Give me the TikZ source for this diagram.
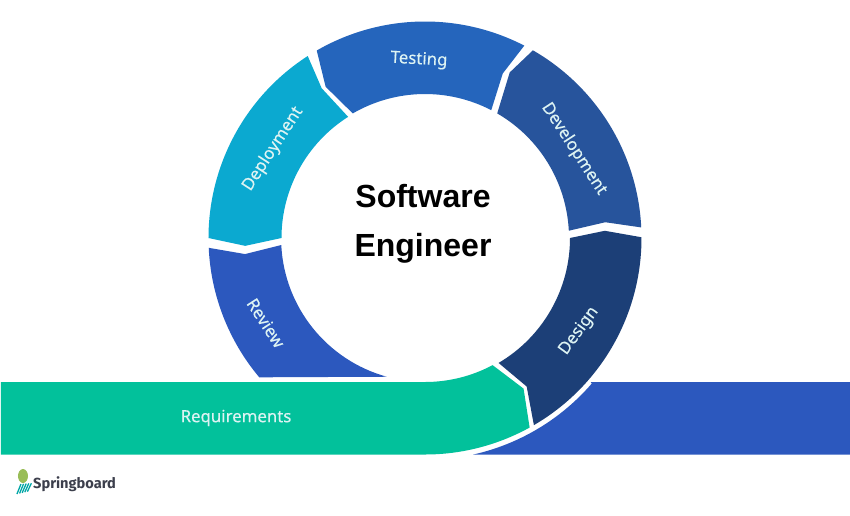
\documentclass[tikz,border=0pt]{standalone}
\usepackage{fontspec}
\setmainfont{Liberation Sans}
\newfontfamily\labelfont[FakeBold=0.25]{Noto Sans}
\newfontfamily\logofont{Fira Sans}
\definecolor{ctest}{HTML}{2565BC}
\definecolor{cdev}{HTML}{27549C}
\definecolor{cdes}{HTML}{1C3F77}
\definecolor{cgreen}{HTML}{02C19B}
\definecolor{cband}{HTML}{2C58BE}
\definecolor{cdep}{HTML}{0BA9D0}
\definecolor{clogo}{HTML}{3C3F4C}
\definecolor{clabel}{HTML}{DDF3F3}
\tikzset{
  stage/.style={font=\labelfont\fontsize{16.8}{19}\selectfont, text=clabel, inner sep=0pt},
  title/.style={font=\fontsize{32}{38}\selectfont\bfseries, text=black, inner sep=0pt},
}
\begin{document}
\begin{tikzpicture}[x=1pt,y=1pt]
\useasboundingbox (-425,-277) rectangle (425,238);
\fill[white] (-425,-277) rectangle (425,238);
% blue band
\fill[cband] (165.6,-144) -- (425,-144) -- (425,-216.6) -- (48,-216.6)
  arc[start angle=-77.4,end angle=-40.8,radius=220.5pt] -- cycle;
% Testing
\fill[ctest] (120:216.5) arc[start angle=120,end angle=62.7,radius=216.5pt]
  -- (64.7:182) -- (62.6:144) arc[start angle=62.6,end angle=120.1,radius=144pt]
  -- (123.3:181) -- cycle;
% Development
\fill[cdev] (60.1:216.5) arc[start angle=60.1,end angle=2.8,radius=216.5pt]
  -- (5:181) -- (2.9:144) arc[start angle=2.9,end angle=59.9,radius=144pt]
  -- (62.9:186) -- cycle;
% Design
\fill[cdes] (0.2:216.5) arc[start angle=0.2,end angle=-59.8,radius=216.5pt]
  -- (-55.6:180) -- (-59.5:145) arc[start angle=-59.5,end angle=0,radius=145pt]
  -- (2.3:180) -- cycle;
% Deployment
\fill[cdep] (122.8:216.5) arc[start angle=122.8,end angle=180,radius=216.5pt]
  -- (182.5:180) -- (180:143.5) arc[start angle=180,end angle=122.4,radius=143.5pt]
  -- (124.6:182) -- cycle;
% Review
\fill[cband] (182.6:216.5) arc[start angle=182.6,end angle=220.05,radius=216.5pt]
  -- (254.6:143.9) arc[start angle=254.6,end angle=182.8,radius=143.9pt]
  -- (185.1:180.7) -- cycle;
% Requirements
\fill[cgreen] (-424,-144) -- (0,-144) arc[start angle=-90,end angle=-62,radius=144pt]
  -- (-56.8:180) -- (-61.1:216.5) arc[start angle=-61.1,end angle=-90,radius=216.5pt]
  -- (-424,-216.5) -- cycle;
% labels
\node[stage,rotate=-3] (testing) at (-6,178) {Testing};
\node[stage,rotate=-57] (development) at (149,89) {Development};
\node[stage,rotate=57] (deployment) at (-152,89) {Deployment};
\node[stage,rotate=-57] (review) at (-159,-85) {Review};
\node[stage,rotate=54] (design) at (154,-93) {Design};
\node[stage] (requirements) at (-189,-180) {Requirements};
\node[title] (software) at (-2,42) {Software};
\node[title] (engineer) at (-2,-10) {Engineer};
% logo
\node[font=\logofont\fontsize{14.6}{16}\selectfont\bfseries, text=clogo, inner sep=0pt, anchor=west] (logo) at (-392,-246) {Springboard};
\fill[yellow!55!green!65!gray] (-402,-238) ellipse (5pt and 7pt);
\foreach \i in {0,1,2,3,4}
  \draw[teal!70!cyan, line width=1.3pt] (-408+\i*2.6,-256+\i*0.6) -- (-404+\i*2.6,-246+\i*0.2);
\end{tikzpicture}
\end{document}
